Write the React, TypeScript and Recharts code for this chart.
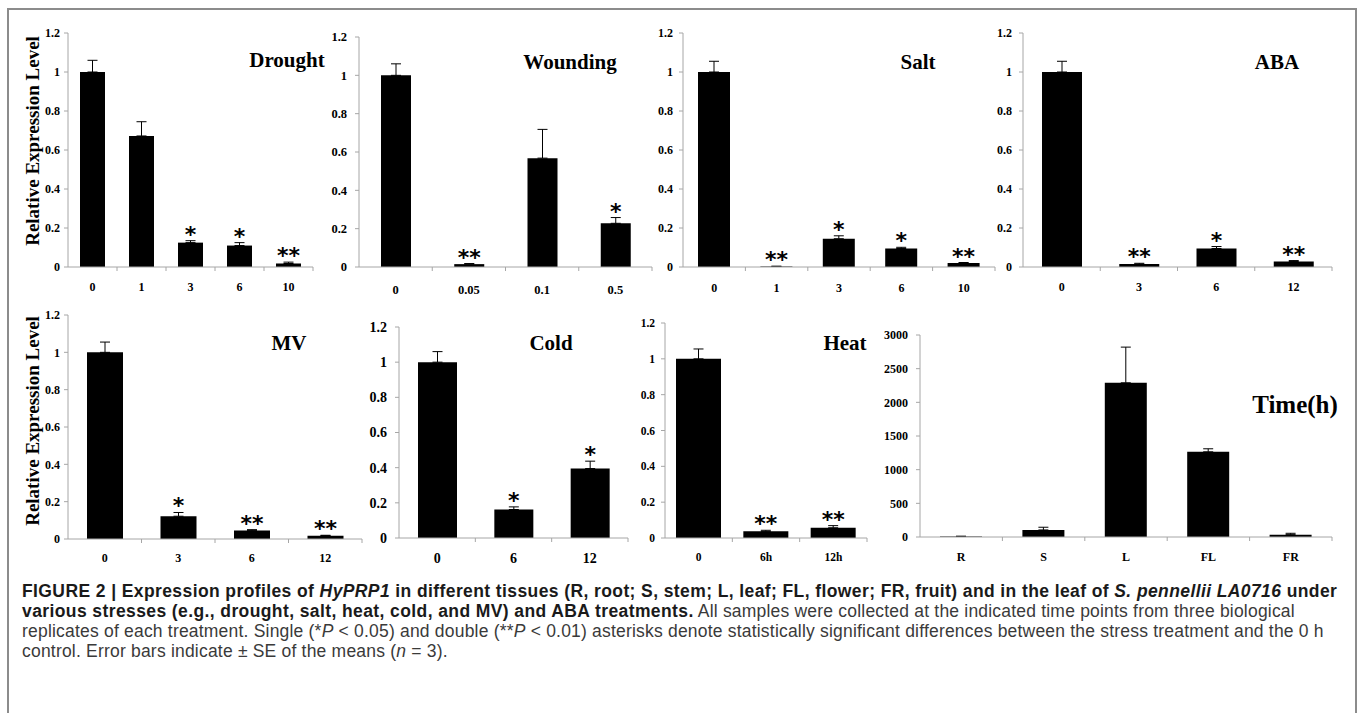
import { BarChart, Bar, XAxis, YAxis, ErrorBar, LabelList } from 'recharts'

// Drought (h)
const droughtHours = ['0', '1', '3', '6', '10']
const droughtLevel = [1.0, 0.672, 0.125, 0.11, 0.018]
const droughtSE = [0.06, 0.073, 0.01, 0.015, 0.007]
const droughtSig = ['', '', '*', '*', '**']

// Wounding
const woundHours = ['0', '0.05', '0.1', '0.5']
const woundLevel = [1.0, 0.015, 0.568, 0.228]
const woundSE = [0.06, 0.003, 0.15, 0.03]
const woundSig = ['', '**', '', '*']

// Salt
const saltHours = ['0', '1', '3', '6', '10']
const saltLevel = [1.0, 0.003, 0.145, 0.095, 0.02]
const saltSE = [0.055, 0.001, 0.015, 0.006, 0.003]
const saltSig = ['', '**', '*', '*', '**']

// ABA
const abaHours = ['0', '3', '6', '12']
const abaLevel = [1.0, 0.015, 0.095, 0.028]
const abaSE = [0.055, 0.004, 0.01, 0.005]
const abaSig = ['', '**', '*', '**']

// MV
const mvHours = ['0', '3', '6', '12']
const mvLevel = [1.0, 0.122, 0.046, 0.018]
const mvSE = [0.055, 0.02, 0.004, 0.002]
const mvSig = ['', '*', '**', '**']

// Cold
const coldHours = ['0', '6', '12']
const coldLevel = [1.0, 0.162, 0.395]
const coldSE = [0.06, 0.015, 0.042]
const coldSig = ['', '*', '*']

// Heat
const heatHours = ['0', '6h', '12h']
const heatLevel = [1.0, 0.037, 0.057]
const heatSE = [0.055, 0.006, 0.012]
const heatSig = ['', '**', '**']

// tissues
const tissueNames = ['R', 'S', 'L', 'FL', 'FR']
const tissueLevel = [8, 105, 2290, 1265, 35]
const tissueSE = [4, 40, 530, 45, 20]
const tissueSig = ['', '', '', '', '']

const unitTicks = [0, 0.2, 0.4, 0.6, 0.8, 1, 1.2]
const tissueTicks = [0, 500, 1000, 1500, 2000, 2500, 3000]

const SERIF = '"Liberation Serif", "Times New Roman", serif'
const SANS = '"Liberation Sans", Arial, sans-serif'
const AXIS = '#a6a6a6'

const toRows = (cats: string[], vals: number[], errs: number[], sigs: string[]) =>
  cats.map((c, i) => ({ cat: c, value: vals[i], err: [0, errs[i]], sig: sigs[i] }))

type Panel = {
  rows: ReturnType<typeof toRows>
  x0: number // y axis line
  x1: number // end of x axis
  yTop: number // pixel of max tick
  y0: number // pixel of zero
  max: number
  ticks: number[]
  barSize: number
  fs: number
  tm: number
  gap: number
}

const panels: Panel[] = [
  { rows: toRows(droughtHours, droughtLevel, droughtSE, droughtSig), x0: 68, x1: 313, yTop: 33, y0: 267, max: 1.2, ticks: unitTicks, barSize: 25, fs: 12, tm: 4, gap: 20 },
  { rows: toRows(woundHours, woundLevel, woundSE, woundSig), x0: 359, x1: 652, yTop: 37, y0: 267, max: 1.2, ticks: unitTicks, barSize: 30, fs: 12.5, tm: 8, gap: 23 },
  { rows: toRows(saltHours, saltLevel, saltSE, saltSig), x0: 683, x1: 995, yTop: 33, y0: 267, max: 1.2, ticks: unitTicks, barSize: 32, fs: 12, tm: 6, gap: 21 },
  { rows: toRows(abaHours, abaLevel, abaSE, abaSig), x0: 1023, x1: 1332, yTop: 33, y0: 267, max: 1.2, ticks: unitTicks, barSize: 40, fs: 12, tm: 7, gap: 20 },
  { rows: toRows(mvHours, mvLevel, mvSE, mvSig), x0: 68, x1: 362, yTop: 315, y0: 539, max: 1.2, ticks: unitTicks, barSize: 36, fs: 12, tm: 4, gap: 19 },
  { rows: toRows(coldHours, coldLevel, coldSE, coldSig), x0: 399, x1: 628, yTop: 327, y0: 538, max: 1.2, ticks: unitTicks, barSize: 39, fs: 14, tm: 8, gap: 20 },
  { rows: toRows(heatHours, heatLevel, heatSE, heatSig), x0: 665, x1: 867, yTop: 323, y0: 538, max: 1.2, ticks: unitTicks, barSize: 45, fs: 11.5, tm: 6, gap: 19 },
  { rows: toRows(tissueNames, tissueLevel, tissueSE, tissueSig), x0: 920, x1: 1332, yTop: 335, y0: 537, max: 3000, ticks: tissueTicks, barSize: 42, fs: 12, tm: 8, gap: 20 },
]

const titles = [
  { text: 'Drought', x: 287, y: 60, fs: 21 },
  { text: 'Wounding', x: 570, y: 62, fs: 21 },
  { text: 'Salt', x: 918, y: 62, fs: 21 },
  { text: 'ABA', x: 1277, y: 62, fs: 21 },
  { text: 'MV', x: 289, y: 343, fs: 21 },
  { text: 'Cold', x: 551, y: 343, fs: 21 },
  { text: 'Heat', x: 845, y: 343, fs: 21 },
  { text: 'Time(h)', x: 1295, y: 405, fs: 25 },
]

const MT = 14
const MB = 34
const YW = 50
const MR = 6

const ChartPanel = ({ p }: { p: Panel }) => {
  const plotW = p.x1 - p.x0
  const plotH = p.y0 - p.yTop
  const step = plotW / p.rows.length
  const font = { fontFamily: SERIF, fontWeight: 700, fontSize: p.fs, fill: '#000' }

  const xTick = (props: any) => {
    const { x, y, payload } = props
    return (
      <g>
        <line x1={x + step / 2} x2={x + step / 2} y1={y} y2={y + 4} stroke={AXIS} />
        <text x={x} y={y + p.gap} dy="0.35em" textAnchor="middle" {...font}>
          {payload.value}
        </text>
      </g>
    )
  }

  const sigLabel = (props: any) => {
    const vb = props.viewBox && props.viewBox.width !== undefined ? props.viewBox : props
    const { x, y, width, height } = vb
    const r = p.rows[props.index]
    if (!r || !r.sig) return null
    const pxPerUnit = r.value > 0 && height > 0 ? height / r.value : plotH / p.max
    const top = y - r.err[1] * pxPerUnit
    return (
      <text x={x + width / 2} y={top + 1} textAnchor="middle" fontFamily='"DejaVu Sans", sans-serif' fontWeight={700} fontSize={22} fill="#000">
        {r.sig}
      </text>
    )
  }

  return (
    <div style={{ position: 'absolute', left: p.x0 - YW, top: p.yTop - MT }}>
      <BarChart width={YW + plotW + MR} height={MT + plotH + MB} data={p.rows} margin={{ top: MT, right: MR, bottom: 0, left: 0 }}>
        <XAxis dataKey="cat" height={MB} interval={0} axisLine={{ stroke: AXIS }} tickLine={false} tickSize={0} tickMargin={0} tick={xTick} />
        <YAxis width={YW} domain={[0, p.max]} ticks={p.ticks} allowDataOverflow interval={0} axisLine={{ stroke: AXIS }} tickLine={{ stroke: AXIS }} tickSize={4} tickMargin={p.tm} tick={font} />
        <Bar dataKey="value" fill="#000" barSize={p.barSize} isAnimationActive={false}>
          <ErrorBar dataKey="err" width={5} stroke="#000" strokeWidth={1} direction="y" />
          <LabelList dataKey="sig" content={sigLabel} />
        </Bar>
      </BarChart>
    </div>
  )
}

const b = { fontWeight: 700, letterSpacing: 0.4 }
const bi = { fontWeight: 700, fontStyle: 'italic' as const, letterSpacing: 0.4 }
const it = { fontStyle: 'italic' as const }

const App = () => {
  const capLine = (top: number, color = '#3a3a3a') => ({
    position: 'absolute' as const,
    left: 22,
    top,
    fontFamily: SANS,
    fontSize: 17.5,
    letterSpacing: 0.2,
    lineHeight: '20px',
    whiteSpace: 'nowrap' as const,
    color,
  })
  return (
    <div style={{ position: 'absolute', left: 0, top: 0, width: 1360, height: 713, overflow: 'hidden', background: '#fff' }}>
      <div style={{ position: 'absolute', left: 7, top: 8, width: 1346, height: 760, border: '2px solid #8c8c8c' }} />
      {panels.map((p, i) => (
        <ChartPanel key={i} p={p} />
      ))}
      {titles.map((t) => (
        <div key={t.text} style={{ position: 'absolute', left: t.x, top: t.y, transform: 'translate(-50%, -50%)', fontFamily: SERIF, fontWeight: 700, fontSize: t.fs, whiteSpace: 'nowrap' }}>
          {t.text}
        </div>
      ))}
      {[141, 421].map((cy) => (
        <div key={cy} style={{ position: 'absolute', left: 33, top: cy, transform: 'translate(-50%, -50%) rotate(-90deg)', fontFamily: SERIF, fontWeight: 700, fontSize: 19, whiteSpace: 'nowrap' }}>
          Relative Expression Level
        </div>
      ))}
      <div style={capLine(581, '#1a1a1a')}>
        <span style={b}>FIGURE 2 | Expression profiles of </span>
        <span style={bi}>HyPRP1</span>
        <span style={b}> in different tissues (R, root; S, stem; L, leaf; FL, flower; FR, fruit) and in the leaf of </span>
        <span style={bi}>S. pennellii LA0716</span>
        <span style={b}> under</span>
      </div>
      <div style={capLine(601)}>
        <span style={{ ...b, color: '#1a1a1a' }}>various stresses (e.g., drought, salt, heat, cold, and MV) and ABA treatments.</span>
        <span> All samples were collected at the indicated time points from three biological</span>
      </div>
      <div style={capLine(621)}>
        replicates of each treatment. Single (*<span style={it}>P</span> &lt; 0.05) and double (**<span style={it}>P</span> &lt; 0.01) asterisks denote statistically significant differences between the stress treatment and the 0 h
      </div>
      <div style={capLine(641)}>
        control. Error bars indicate ± SE of the means (<span style={it}>n</span> = 3).
      </div>
    </div>
  )
}

export default App
